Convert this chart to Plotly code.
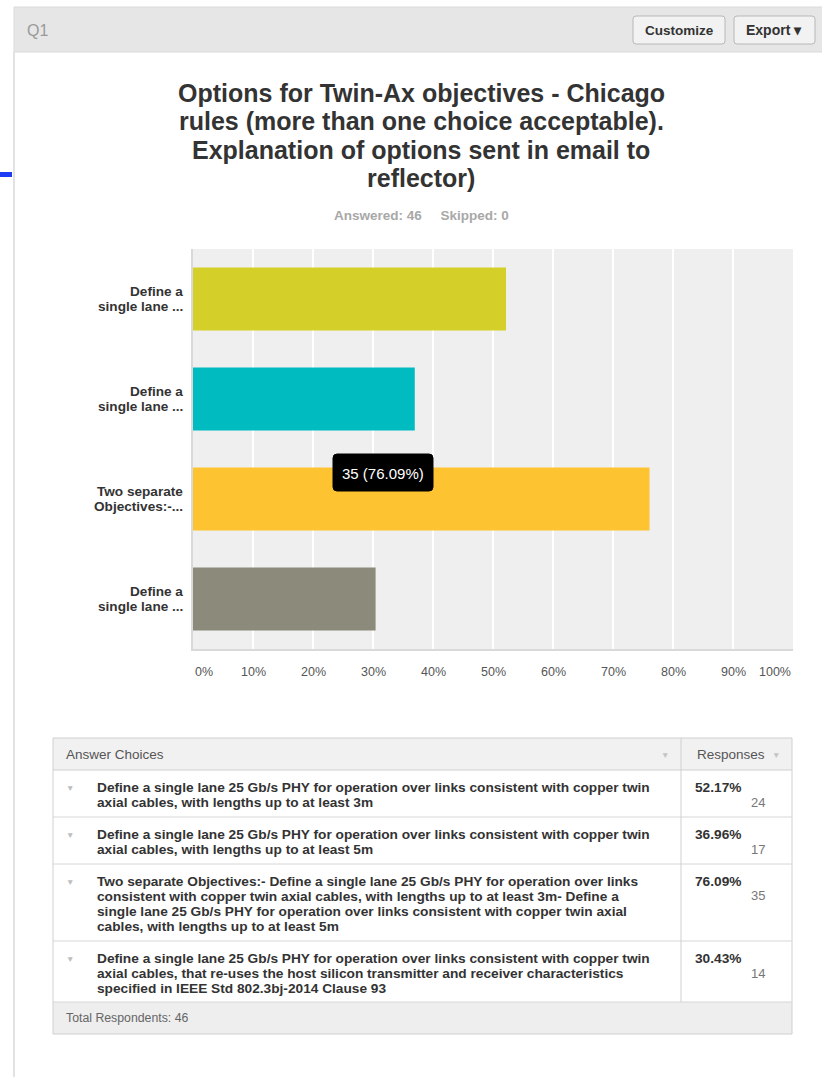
import plotly.graph_objects as go

W, H = 822, 1077

# ---------------- data ----------------
short_labels = [["Define a", "single lane ..."], ["Define a", "single lane ..."],
                ["Two separate", "Objectives:-..."], ["Define a", "single lane ..."]]
choice_lines = [
    ["Define a single lane 25 Gb/s PHY for operation over links consistent with copper twin",
     "axial cables, with lengths up to at least 3m"],
    ["Define a single lane 25 Gb/s PHY for operation over links consistent with copper twin",
     "axial cables, with lengths up to at least 5m"],
    ["Two separate Objectives:- Define a single lane 25 Gb/s PHY for operation over links",
     "consistent with copper twin axial cables, with lengths up to at least 3m- Define a",
     "single lane 25 Gb/s PHY for operation over links consistent with copper twin axial",
     "cables, with lengths up to at least 5m"],
    ["Define a single lane 25 Gb/s PHY for operation over links consistent with copper twin",
     "axial cables, that re-uses the host silicon transmitter and receiver characteristics",
     "specified in IEEE Std 802.3bj-2014 Clause 93"],
]
percents = [52.17, 36.96, 76.09, 30.43]
counts = [24, 17, 35, 14]
bar_colors = ["#d5cf29", "#00bbbf", "#fec331", "#8c8a7a"]
x_ticks = [0, 10, 20, 30, 40, 50, 60, 70, 80, 90, 100]
x_tick_labels = [f"{v}%" for v in x_ticks]
answered, skipped, total = 46, 0, 46
title_lines = ["Options for Twin-Ax objectives - Chicago",
               "rules (more than one choice acceptable).",
               "Explanation of options sent in email to",
               "reflector)"]
hover_index = 2

FONT = "Liberation Sans, Arial, Helvetica, sans-serif"


def px(x):
    return x / W


def py(y):
    return 1 - y / H


fig = go.Figure()
fig.add_trace(go.Bar(
    orientation="h",
    x=percents,
    y=list(range(len(percents))),
    marker=dict(color=bar_colors, line=dict(width=0)),
    width=0.63,
    hoverinfo="skip",
))

shapes = []
annotations = []


def rect(x0, y0, x1, y1, fill, line="rgba(0,0,0,0)", lw=1, layer="below"):
    shapes.append(dict(type="rect", xref="paper", yref="paper",
                       x0=px(x0), x1=px(x1), y0=py(y1), y1=py(y0),
                       fillcolor=fill, line=dict(color=line, width=lw), layer=layer))


def hline(x0, x1, y, color, lw=1):
    shapes.append(dict(type="line", xref="paper", yref="paper",
                       x0=px(x0), x1=px(x1), y0=py(y), y1=py(y),
                       line=dict(color=color, width=lw), layer="below"))


def vline(x, y0, y1, color, lw=1, layer="below"):
    shapes.append(dict(type="line", xref="paper", yref="paper",
                       x0=px(x), x1=px(x), y0=py(y0), y1=py(y1),
                       line=dict(color=color, width=lw), layer=layer))


def rrect(x0, y0, x1, y1, r, fill, line, lw=1, layer="below"):
    X0, X1 = px(x0), px(x1)
    Y0, Y1 = py(y1), py(y0)
    rx, ry = r / W, r / H
    path = (f"M{X0+rx},{Y1} L{X1-rx},{Y1} Q{X1},{Y1} {X1},{Y1-ry} "
            f"L{X1},{Y0+ry} Q{X1},{Y0} {X1-rx},{Y0} L{X0+rx},{Y0} "
            f"Q{X0},{Y0} {X0},{Y0+ry} L{X0},{Y1-ry} Q{X0},{Y1} {X0+rx},{Y1} Z")
    shapes.append(dict(type="path", xref="paper", yref="paper", path=path,
                       fillcolor=fill, line=dict(color=line, width=lw), layer=layer))


def text(x, y, s, size=12, color="#333", bold=False, xanchor="left", yanchor="middle",
         align="left", xref="paper", yref="paper", yshift=0):
    annotations.append(dict(
        xref=xref, yref=yref,
        x=px(x) if xref == "paper" else x,
        y=py(y) if yref == "paper" else y,
        text=s, showarrow=False, xanchor=xanchor, yanchor=yanchor, align=align,
        yshift=yshift,
        font=dict(family=FONT, size=size, color=color, weight=700 if bold else 400),
        borderpad=0))


# ---------- page chrome ----------
rect(14, 7, 823, 52, "#e6e6e6", "#dadada")
vline(14, 52, 1077, "#e2e2e2", 2)
hline(0, 12, 174.5, "#1f3cf5", 5)
text(26, 30, "Q1", size=16, color="#9a9a9a")
rrect(633, 16, 725, 44, 3, "#f2f2f2", "#b8b8b8")
rrect(734, 16, 815, 44, 3, "#f2f2f2", "#b8b8b8")
text(679, 30, "Customize", size=13.5, color="#333", bold=True, xanchor="center")
text(774, 30, "Export ▾", size=14, color="#333", bold=True, xanchor="center")

# ---------- titles ----------
for i, line in enumerate(title_lines):
    text(421, 93 + i * 28.3, line, size=25, color="#333", bold=True, xanchor="center")
text(421, 216, f"Answered: {answered}&nbsp;&nbsp;&nbsp;&nbsp;&nbsp;Skipped: {skipped}",
     size=13.5, color="#a8a8a8", bold=True, xanchor="center")

# ---------- category labels (placed on the y scale) ----------
for i, lines in enumerate(short_labels):
    n = len(lines)
    for j, ln in enumerate(lines):
        text(184, i, ln, size=13.6, color="#333", bold=True, xanchor="right",
             yref="y", yshift=(n - 1) * 7.5 - j * 15)

# ---------- x tick labels (on the x scale) ----------
for v, lab in zip(x_ticks, x_tick_labels):
    anchor = "left" if v == x_ticks[0] else ("right" if v == x_ticks[-1] else "center")
    annotations.append(dict(xref="x", yref="paper", x=v, y=py(672), text=lab,
                            showarrow=False, xanchor=anchor, yanchor="middle",
                            font=dict(family=FONT, size=12.5, color="#555")))

# ---------- tooltip ----------
rrect(333, 454, 433, 491, 4, "#000000", "#000000", layer="above")
text(383, 473, f"{counts[hover_index]} ({percents[hover_index]:.2f}%)", size=15,
     color="#ffffff", xanchor="center")

# ---------- table ----------
row_tops = [770, 817, 864, 941]
row_bottoms = [817, 864, 941, 1002]
rect(53, 738, 792, 770, "#f1f1f1")
rect(53, 1002, 792, 1034, "#eeeeee")
rect(53, 738, 792, 1034, "rgba(0,0,0,0)", "#d0d0d0")
for yb in row_bottoms:
    hline(53, 792, yb, "#d6d6d6")
hline(53, 792, 770, "#d0d0d0")
vline(681, 738, 1002, "#d0d0d0")
text(65, 754, "Answer Choices", size=13.5, color="#555")
text(665, 755, "▼", size=8.5, color="#c4c4c4", xanchor="center")
text(696, 754, "Responses", size=13.5, color="#555")
text(776, 755, "▼", size=8.5, color="#c4c4c4", xanchor="center")
for i, lines in enumerate(choice_lines):
    top = row_tops[i]
    text(70, top + 18, "▼", size=8.5, color="#bdbdbd", xanchor="center")
    for j, ln in enumerate(lines):
        text(96, top + 17.5 + j * 15, ln, size=13.7, color="#333", bold=True)
    text(694, top + 17, f"{percents[i]:.2f}%", size=13.7, color="#333", bold=True)
    text(766, top + 32, str(counts[i]), size=13, color="#777", xanchor="right")
text(65, 1018, f"Total Respondents: {total}", size=12.3, color="#666")

fig.update_layout(
    width=W, height=H,
    autosize=False,
    margin=dict(l=0, r=0, t=0, b=0),
    paper_bgcolor="#ffffff",
    plot_bgcolor="#efefef",
    showlegend=False,
    shapes=shapes,
    annotations=annotations,
    font=dict(family=FONT),
    xaxis=dict(
        domain=[193 / W, 793 / W], range=[0, 100],
        tickvals=x_ticks, showticklabels=False,
        showgrid=True, gridcolor="#ffffff", gridwidth=1.5,
        zeroline=False, showline=True, linecolor="#d9d9d9", linewidth=2,
        fixedrange=True,
    ),
    yaxis=dict(
        domain=[1 - 649 / H, 1 - 249 / H], range=[3.5, -0.5],
        showticklabels=False, showgrid=False, zeroline=False,
        showline=True, linecolor="#d9d9d9", linewidth=2,
        fixedrange=True,
    ),
)

fig.write_html("out.html", config={"responsive": False},
               post_script="document.body.style.margin='0px';document.body.style.overflow='hidden';")
